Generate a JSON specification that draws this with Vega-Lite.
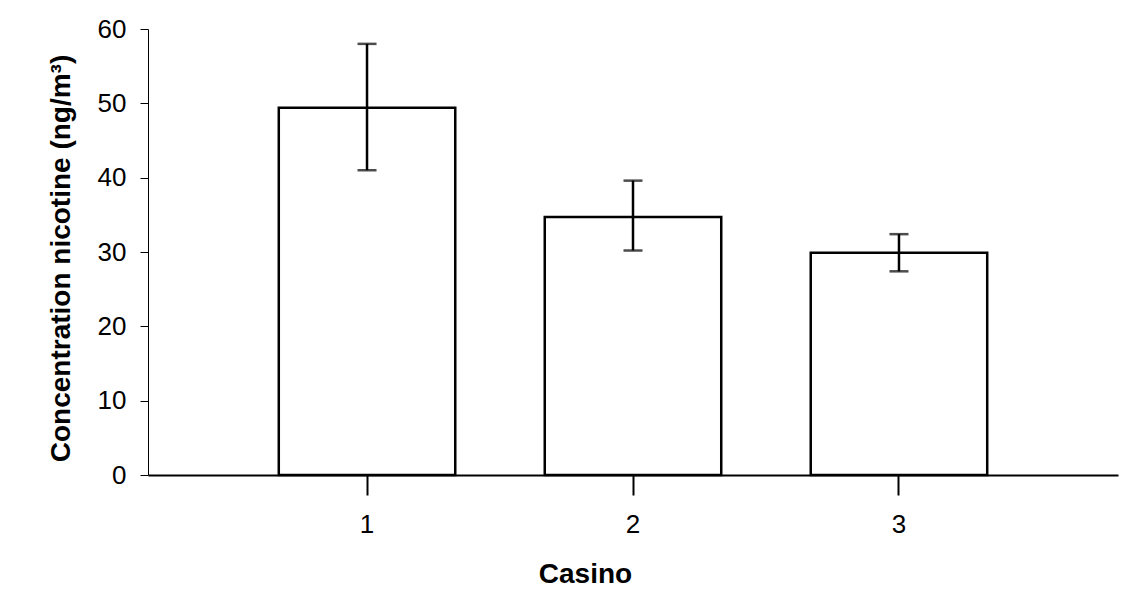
{
  "$schema": "https://vega.github.io/schema/vega-lite/v6.json",
  "width": 970,
  "height": 446,
  "autosize": "none",
  "padding": {"left": 148, "top": 29, "right": 15, "bottom": 119},
  "background": "white",
  "config": {
    "view": {"stroke": null},
    "font": "Liberation Sans",
    "axis": {
      "labelFont": "Liberation Sans",
      "titleFont": "Liberation Sans",
      "labelColor": "black",
      "titleColor": "black",
      "domainColor": "black",
      "tickColor": "black",
      "grid": false
    }
  },
  "data": {
    "values": [
      {"casino": "1", "mean": 49.4, "lo": 41.0, "hi": 58.0},
      {"casino": "2", "mean": 34.7, "lo": 30.2, "hi": 39.6},
      {"casino": "3", "mean": 29.9, "lo": 27.4, "hi": 32.4}
    ]
  },
  "encoding": {
    "x": {
      "field": "casino",
      "type": "nominal",
      "scale": {"paddingInner": 0.3365, "paddingOuter": 0.4917},
      "axis": {
        "title": "Casino",
        "titleFontSize": 28,
        "titleFontWeight": "bold",
        "titleX": 437,
        "titleY": 107,
        "titleBaseline": "alphabetic",
        "labelFontSize": 26,
        "labelAngle": 0,
        "labelPadding": 16,
        "tickSize": 20,
        "tickWidth": 2,
        "domainWidth": 2
      }
    }
  },
  "layer": [
    {
      "mark": {"type": "bar", "fill": "white", "stroke": "black", "strokeWidth": 2.5},
      "encoding": {
        "y": {
          "field": "mean",
          "type": "quantitative",
          "scale": {"domain": [0, 60], "nice": false},
          "axis": {
            "title": "Concentration nicotine (ng/m³)",
            "titleFontSize": 28,
            "titleFontWeight": "bold",
            "titlePadding": 22,
            "titleY": 229,
            "labelFontSize": 26,
            "labelPadding": 14,
            "values": [0, 10, 20, 30, 40, 50, 60],
            "tickSize": 8,
            "tickWidth": 1,
            "domainWidth": 1
          }
        }
      }
    },
    {
      "mark": {"type": "rule", "color": "black", "strokeWidth": 2.5},
      "encoding": {
        "y": {"field": "lo", "type": "quantitative"},
        "y2": {"field": "hi"}
      }
    },
    {
      "mark": {"type": "tick", "color": "black", "orient": "horizontal", "size": 19, "thickness": 2.5},
      "encoding": {"y": {"field": "lo", "type": "quantitative"}}
    },
    {
      "mark": {"type": "tick", "color": "black", "orient": "horizontal", "size": 19, "thickness": 2.5},
      "encoding": {"y": {"field": "hi", "type": "quantitative"}}
    }
  ]
}
